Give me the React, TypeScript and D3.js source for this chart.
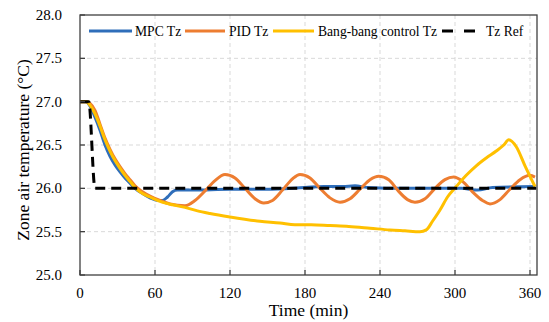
import * as d3 from 'd3';

const timeTicks = [0, 60, 120, 180, 240, 300, 360];
const tempTicks = [25.0, 25.5, 26.0, 26.5, 27.0, 27.5, 28.0];

const mpcTime = [0, 5, 8, 12, 16, 20, 24, 28, 32, 36, 40, 44, 50, 56, 62, 66, 70, 74, 78, 90, 120, 150, 180, 195, 210, 220, 230, 260, 290, 305, 318, 330, 364];
const mpcTz = [27, 27, 26.95, 26.82, 26.67, 26.5, 26.37, 26.27, 26.19, 26.12, 26.06, 26.0, 25.94, 25.89, 25.86, 25.86, 25.9, 25.96, 25.98, 25.98, 25.99, 25.99, 26.01, 26.02, 26.02, 26.03, 26.01, 26.0, 26.0, 26.0, 25.98, 26.01, 26.02];

const pidTime = [0, 5, 8, 12, 16, 20, 24, 28, 32, 36, 40, 44, 50, 56, 64, 72, 84, 92, 100, 108, 116, 124, 132, 140, 147, 154, 162, 170, 176, 184, 192, 200, 208, 216, 224, 232, 239, 247, 254, 262, 268, 276, 284, 292, 299, 306, 314, 322, 328, 336, 344, 352, 360, 364];
const pidTz = [27, 27, 26.98, 26.9, 26.74, 26.58, 26.45, 26.34, 26.25, 26.17, 26.1, 26.03, 25.96, 25.91, 25.86, 25.82, 25.8, 25.86, 25.97, 26.09, 26.16, 26.12, 26.0, 25.88, 25.83, 25.86, 25.98, 26.11, 26.16, 26.12, 26.0, 25.89, 25.84, 25.88, 25.99, 26.1, 26.14, 26.1, 25.98, 25.87, 25.84, 25.88, 26.0, 26.1, 26.13, 26.08, 25.96, 25.86, 25.82, 25.87, 25.99, 26.1, 26.15, 26.13];

const bangTime = [0, 5, 8, 12, 16, 20, 24, 28, 32, 36, 40, 44, 50, 56, 64, 74, 84, 94, 104, 120, 144, 160, 172, 185, 200, 215, 232, 248, 260, 272, 277, 282, 288, 294, 301, 309, 317, 325, 333, 339, 343, 349, 356, 364];
const bangTz = [27, 27, 26.96, 26.86, 26.72, 26.56, 26.43, 26.32, 26.23, 26.15, 26.08, 26.01, 25.94, 25.9, 25.85, 25.81, 25.78, 25.74, 25.71, 25.67, 25.62, 25.6, 25.58, 25.58, 25.57, 25.56, 25.54, 25.52, 25.51, 25.5, 25.52, 25.62, 25.75, 25.9, 26.02, 26.15, 26.26, 26.35, 26.43, 26.5, 26.56, 26.48, 26.26, 26.02];

const refTime = [0, 7, 12, 365];
const refTz = [27, 27, 26, 26];

const seriesNames = ['MPC Tz', 'PID Tz', 'Bang-bang control Tz', 'Tz Ref'];

const W = 549;
const H = 322;
const left = 80;
const right = 537;
const top = 15;
const bottom = 275;
const font = '"Liberation Serif", "Times New Roman", serif';

export default function App() {
  const x = d3.scaleLinear([0, 365.6], [left, right]);
  const y = d3.scaleLinear([25, 28], [bottom, top]);

  const line = (ts: number[], vs: number[]) =>
    d3
      .line<number>((_, i) => x(ts[i]), (v) => y(v))
      .curve(d3.curveMonotoneX)(vs) as string;

  const series = [
    { name: seriesNames[0], color: '#2F6EBA', d: line(mpcTime, mpcTz), dash: undefined },
    { name: seriesNames[1], color: '#ED7D31', d: line(pidTime, pidTz), dash: undefined },
    { name: seriesNames[2], color: '#FFC000', d: line(bangTime, bangTz), dash: undefined },
    { name: seriesNames[3], color: '#000000', d: line(refTime, refTz), dash: '10,6' },
  ];

  // legend layout
  const legendX = [89, 185, 273, 442];
  const legendLen = [43, 40, 41, 33];
  const legendDash = [undefined, undefined, undefined, '11,11'];
  const legendGap = [3, 4, 4, 11];
  const legendY = 31;

  return (
    <svg width={W} height={H} style={{ position: 'absolute', left: 0, top: 0 }} fontFamily={font}>
      <rect x={0} y={0} width={W} height={H} fill="white" />

      {/* grid */}
      <g stroke="#d9d9d9" strokeWidth={1} strokeDasharray="4,3">
        {timeTicks.slice(1).map((t) => (
          <line key={'gx' + t} x1={x(t)} x2={x(t)} y1={top} y2={bottom} />
        ))}
        {tempTicks.slice(1, -1).map((v) => (
          <line key={'gy' + v} x1={left} x2={right} y1={y(v)} y2={y(v)} />
        ))}
      </g>

      {/* series */}
      {series.map((s) => (
        <path
          key={s.name}
          d={s.d}
          fill="none"
          stroke={s.color}
          strokeWidth={3}
          strokeDasharray={s.dash}
          strokeLinejoin="round"
        />
      ))}

      {/* frame */}
      <rect x={left} y={top} width={right - left} height={bottom - top} fill="none" stroke="#404040" strokeWidth={1.3} />

      {/* ticks */}
      <g stroke="#404040" strokeWidth={1.3}>
        {timeTicks.map((t) => (
          <line key={'tx' + t} x1={x(t)} x2={x(t)} y1={bottom} y2={bottom - 5} />
        ))}
        {tempTicks.map((v) => (
          <line key={'ty' + v} x1={left} x2={left + 5} y1={y(v)} y2={y(v)} />
        ))}
      </g>

      {/* tick labels */}
      <g fontSize={15} fill="#000">
        {timeTicks.map((t) => (
          <text key={'lx' + t} x={x(t)} y={298} textAnchor="middle">
            {t}
          </text>
        ))}
        {tempTicks.map((v) => (
          <text key={'ly' + v} x={62} y={y(v) + 5} textAnchor="end">
            {d3.format('.1f')(v)}
          </text>
        ))}
      </g>

      {/* axis titles */}
      <text x={(left + right) / 2} y={316} textAnchor="middle" fontSize={17.5}>
        Time (min)
      </text>
      <text
        transform={`translate(29,150) rotate(-90)`}
        textAnchor="middle"
        fontSize={17.5}
      >
        Zone air temperature (°C)
      </text>

      {/* legend */}
      <g fontSize={13.6}>
        {series.map((s, i) => (
          <g key={'lg' + s.name}>
            <line
              x1={legendX[i]}
              x2={legendX[i] + legendLen[i]}
              y1={legendY}
              y2={legendY}
              stroke={s.color}
              strokeWidth={3}
              strokeDasharray={legendDash[i]}
            />
            <text x={legendX[i] + legendLen[i] + legendGap[i]} y={legendY + 4.5}>
              {s.name}
            </text>
          </g>
        ))}
      </g>
    </svg>
  );
}
